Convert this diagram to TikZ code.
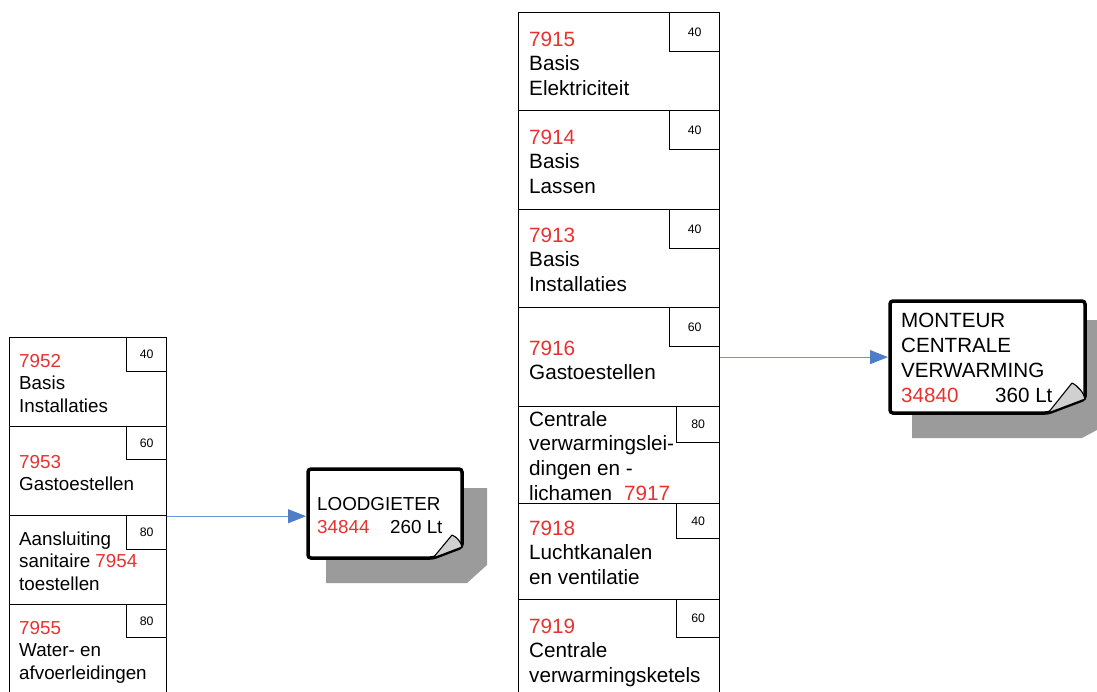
\documentclass[tikz,border=0pt]{standalone}
\usepackage{fontspec}
\setmainfont{Liberation Sans}
\usetikzlibrary{arrows.meta}
\definecolor{numred}{RGB}{232,50,48}
\definecolor{arrblue}{RGB}{80,125,200}
\definecolor{linkblue}{RGB}{110,150,215}
\definecolor{shadowgray}{RGB}{155,155,155}
\definecolor{flapgray}{RGB}{208,208,208}
\newcommand\R[1]{\textcolor{numred}{#1}}
\newcommand\stk[1]{\vtop{\halign{##\hfil\cr#1\crcr}}}
\tikzset{
  cell/.style={draw=black, fill=white, line width=1.2pt, anchor=north west, inner sep=0pt},
  tag/.style={draw=black, fill=white, line width=1.2pt, anchor=north east, inner sep=0pt,
    font=\fontsize{12.3}{14}\selectfont},
  ltxt/.style={anchor=base west, inner sep=0pt, font=\fontsize{18.8}{22.6}\selectfont},
  mtxt/.style={anchor=base west, inner sep=0pt, font=\fontsize{20.7}{24.7}\selectfont},
  ntxtA/.style={anchor=base west, inner sep=0pt, font=\fontsize{18.8}{23}\selectfont},
  ntxtB/.style={anchor=base west, inner sep=0pt, font=\fontsize{20.6}{25}\selectfont},
  notebd/.style={draw=black, fill=white, line width=3.5pt, rounded corners=3pt},
  flap/.style={draw=black, fill=flapgray, line width=1.1pt, line join=round},
  shadow/.style={fill=shadowgray},
  conn/.style={draw=linkblue, line width=1pt, -{Triangle[length=18pt,width=14pt,color=arrblue]}},
  holder/.style={inner sep=0pt, outer sep=0pt}
}
\begin{document}
\begin{tikzpicture}[x=1pt,y=-1pt]
\useasboundingbox (0,0) rectangle (1097,691);
\clip (0,0) rectangle (1097,691);
\fill[white] (0,0) rectangle (1097,691);

% ---------------- left column ----------------
\node[cell, minimum width=157pt, minimum height=89pt] (c7952) at (9,337) {};
\node[tag, minimum width=40pt, minimum height=34pt] (t7952) at (c7952.north east) {40};
\node[ltxt] (x7952) at (19,367) {\stk{\R{7952}\cr Basis\cr Installaties}};

\node[cell, minimum width=157pt, minimum height=89pt] (c7953) at (9,426) {};
\node[tag, minimum width=40pt, minimum height=33pt] (t7953) at (c7953.north east) {60};
\node[ltxt] (x7953) at (19,468) {\stk{\R{7953}\cr Gastoestellen}};

\node[cell, minimum width=157pt, minimum height=89pt] (c7954) at (9,515) {};
\node[tag, minimum width=40pt, minimum height=34pt] (t7954) at (c7954.north east) {80};
\node[ltxt] (x7954) at (19,545) {\stk{Aansluiting\cr sanitaire \R{7954}\cr toestellen}};

\node[cell, minimum width=157pt, minimum height=100pt] (c7955) at (9,604) {};
\node[tag, minimum width=40pt, minimum height=33pt] (t7955) at (c7955.north east) {80};
\node[ltxt] (x7955) at (19,634) {\stk{\R{7955}\cr Water- en\cr afvoerleidingen}};

% ---------------- middle column ----------------
\node[cell, minimum width=201pt, minimum height=98pt] (c7915) at (518,12) {};
\node[tag, minimum width=50pt, minimum height=39pt] (t7915) at (c7915.north east) {40};
\node[mtxt] (x7915) at (529,46) {\stk{\R{7915}\cr Basis\cr Elektriciteit}};

\node[cell, minimum width=201pt, minimum height=99pt] (c7914) at (518,110) {};
\node[tag, minimum width=50pt, minimum height=39pt] (t7914) at (c7914.north east) {40};
\node[mtxt] (x7914) at (529,144) {\stk{\R{7914}\cr Basis\cr Lassen}};

\node[cell, minimum width=201pt, minimum height=98pt] (c7913) at (518,209) {};
\node[tag, minimum width=50pt, minimum height=39pt] (t7913) at (c7913.north east) {40};
\node[mtxt] (x7913) at (529,242) {\stk{\R{7913}\cr Basis\cr Installaties}};

\node[cell, minimum width=201pt, minimum height=99pt] (c7916) at (518,307) {};
\node[tag, minimum width=50pt, minimum height=39pt] (t7916) at (c7916.north east) {60};
\node[mtxt] (x7916) at (529,355) {\stk{\R{7916}\cr Gastoestellen}};

\node[cell, minimum width=201pt, minimum height=97pt] (c7917) at (518,406) {};
\node[tag, minimum width=43pt, minimum height=36pt] (t7917) at (c7917.north east) {80};
\node[mtxt] (x7917) at (529,426) {\stk{Centrale\cr verwarmingslei-\cr dingen en -\cr lichamen\hspace{12pt}\R{7917}}};

\node[cell, minimum width=201pt, minimum height=96pt] (c7918) at (518,503) {};
\node[tag, minimum width=43pt, minimum height=35pt] (t7918) at (c7918.north east) {40};
\node[mtxt] (x7918) at (529,535) {\stk{\R{7918}\cr Luchtkanalen\cr en ventilatie}};

\node[cell, minimum width=201pt, minimum height=105pt] (c7919) at (518,599) {};
\node[tag, minimum width=43pt, minimum height=38pt] (t7919) at (c7919.north east) {60};
\node[mtxt] (x7919) at (529,633) {\stk{\R{7919}\cr Centrale\cr verwarmingsketels}};

% ---------------- LOODGIETER note ----------------
\path[shadow] (326,488) -- (487,488) -- (487,565) -- (467,583) -- (326,583) -- cycle;
\path[notebd] (308,469) -- (462,469) -- (462,547) -- (433,558) -- (308,558) -- cycle;
\path[flap] (433,558) -- (452,535) .. controls (457,537) and (461,542) .. (462,547) -- cycle;
\node[holder, minimum width=158pt, minimum height=93pt] (lood) at (385,513.5) {};
\node[ntxtA] (lname) at (317,510) {\stk{LOODGIETER\cr\R{34844}}};
\node[ntxtA] (lcap) at (390,533) {260 Lt};

% ---------------- MONTEUR note ----------------
\path[shadow] (912,320) -- (1110,320) -- (1110,423) -- (1082,438) -- (912,438) -- cycle;
\path[notebd] (890,301) -- (1085,301) -- (1085,399) -- (1048,413) -- (890,413) -- cycle;
\path[flap] (1048,413) -- (1072,383) .. controls (1078,386) and (1084,393) .. (1085,399) -- cycle;
\node[holder, minimum width=199pt, minimum height=116pt] (mont) at (987.5,357) {};
\node[ntxtB] (mname) at (901,327) {\stk{MONTEUR\cr CENTRALE\cr VERWARMING\cr\R{34840}}};
\node[ntxtB] (mcap) at (995,402) {360 Lt};

% ---------------- connectors ----------------
\draw[conn] (c7953.south east) -- (c7953.south east -| lood.west);
\draw[conn] (c7916.east) -- (c7916.east -| mont.west);
\end{tikzpicture}
\end{document}
